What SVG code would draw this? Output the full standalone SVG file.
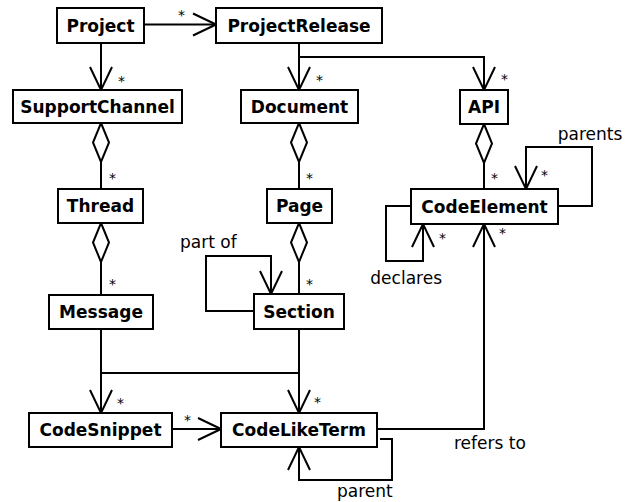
<svg xmlns="http://www.w3.org/2000/svg" width="634" height="502" viewBox="0 0 634 502">
  <style>
    .box { fill: #fff; stroke: #000; stroke-width: 2; }
    .name { font-family: "DejaVu Sans", sans-serif; font-weight: bold; font-size: 17px; text-anchor: middle; fill: #000; }
    .lbl { font-family: "DejaVu Sans", sans-serif; font-size: 17px; fill: #000; }
    .mul { font-family: "DejaVu Sans", sans-serif; font-size: 14px; fill: #000; }
    .edge { fill: none; stroke: #000; stroke-width: 2; }
    .nav { marker-end: url(#open); }
    .agg { marker-start: url(#diamond); }
  </style>
  <defs>
    <marker id="open" viewBox="-26 -13 28 26" refX="0" refY="0" markerWidth="28" markerHeight="26" markerUnits="userSpaceOnUse" orient="auto">
      <path d="M-23,-11 L0,0 L-23,11" fill="none" stroke="#000" stroke-width="2"/>
    </marker>
    <marker id="diamond" viewBox="-2 -10 43 20" refX="0" refY="0" markerWidth="43" markerHeight="20" markerUnits="userSpaceOnUse" orient="auto">
      <path d="M0,0 L19.5,-8 L39,0 L19.5,8 Z" fill="#fff" stroke="#000" stroke-width="2"/>
    </marker>
  </defs>

  <!-- associations -->
  <g id="connectors">
    <path class="edge nav" d="M101,43 V90"/>
    <path class="edge nav" d="M144,24.5 H216"/>
    <path class="edge nav" d="M299,43 V90"/>
    <path class="edge nav" d="M299,57 H484 V90"/>
    <path class="edge agg" d="M101,123 V189"/>
    <path class="edge agg" d="M101,223 V295"/>
    <path class="edge agg" d="M299,123 V189"/>
    <path class="edge agg" d="M299,223 V294"/>
    <path class="edge agg" d="M484,124 V189"/>
    <path class="edge nav" d="M558,206 H592 V147 H526 V189"/>
    <path class="edge nav" d="M411,206 H386 V261 H423 V224"/>
    <path class="edge nav" d="M254,311 H206 V256 H271 V294"/>
    <path class="edge nav" d="M101,329 V413"/>
    <path class="edge nav" d="M299,329 V413"/>
    <path class="edge" d="M101,373 H299"/>
    <path class="edge nav" d="M172,429 H221"/>
    <path class="edge nav" d="M377,429 H484 V224"/>
    <path class="edge nav" d="M380,439 H392 V480 H299 V447"/>

    <text class="mul" x="178" y="20">*</text>
    <text class="mul" x="118" y="86">*</text>
    <text class="mul" x="316" y="85">*</text>
    <text class="mul" x="501" y="84">*</text>
    <text class="mul" x="491" y="183">*</text>
    <text class="mul" x="541" y="180">*</text>
    <text class="mul" x="439" y="243">*</text>
    <text class="mul" x="499" y="238">*</text>
    <text class="mul" x="109" y="183">*</text>
    <text class="mul" x="109" y="289">*</text>
    <text class="mul" x="306" y="183">*</text>
    <text class="mul" x="306" y="289">*</text>
    <text class="mul" x="117" y="408">*</text>
    <text class="mul" x="184" y="425">*</text>
    <text class="mul" x="314" y="407">*</text>

    <text class="lbl" x="590" y="140" text-anchor="middle">parents</text>
    <text class="lbl" x="442" y="284" text-anchor="end">declares</text>
    <text class="lbl" x="180" y="248">part of</text>
    <text class="lbl" x="454" y="449">refers to</text>
    <text class="lbl" x="337" y="497">parent</text>
  </g>

  <!-- classes -->
  <g id="Project"><rect class="box" x="57" y="8" width="87" height="35"/><text class="name" x="100.5" y="32">Project</text></g>
  <g id="ProjectRelease"><rect class="box" x="216" y="8" width="166" height="35"/><text class="name" x="299" y="32">ProjectRelease</text></g>
  <g id="SupportChannel"><rect class="box" x="13" y="90" width="169" height="33"/><text class="name" x="97.5" y="113">SupportChannel</text></g>
  <g id="Document"><rect class="box" x="241" y="90" width="117" height="33"/><text class="name" x="299.5" y="113">Document</text></g>
  <g id="API"><rect class="box" x="460" y="90" width="48" height="34"/><text class="name" x="484" y="113">API</text></g>
  <g id="Thread"><rect class="box" x="58" y="189" width="85" height="34"/><text class="name" x="100.5" y="212">Thread</text></g>
  <g id="Page"><rect class="box" x="267" y="189" width="65" height="34"/><text class="name" x="299.5" y="212">Page</text></g>
  <g id="CodeElement"><rect class="box" x="411" y="189" width="147" height="35"/><text class="name" x="484.5" y="213">CodeElement</text></g>
  <g id="Message"><rect class="box" x="49" y="295" width="104" height="34"/><text class="name" x="101" y="318">Message</text></g>
  <g id="Section"><rect class="box" x="254" y="294" width="90" height="35"/><text class="name" x="299" y="318">Section</text></g>
  <g id="CodeSnippet"><rect class="box" x="29" y="413" width="143" height="34"/><text class="name" x="100.5" y="436">CodeSnippet</text></g>
  <g id="CodeLikeTerm"><rect class="box" x="221" y="413" width="156" height="34"/><text class="name" x="299" y="436">CodeLikeTerm</text></g>
</svg>
